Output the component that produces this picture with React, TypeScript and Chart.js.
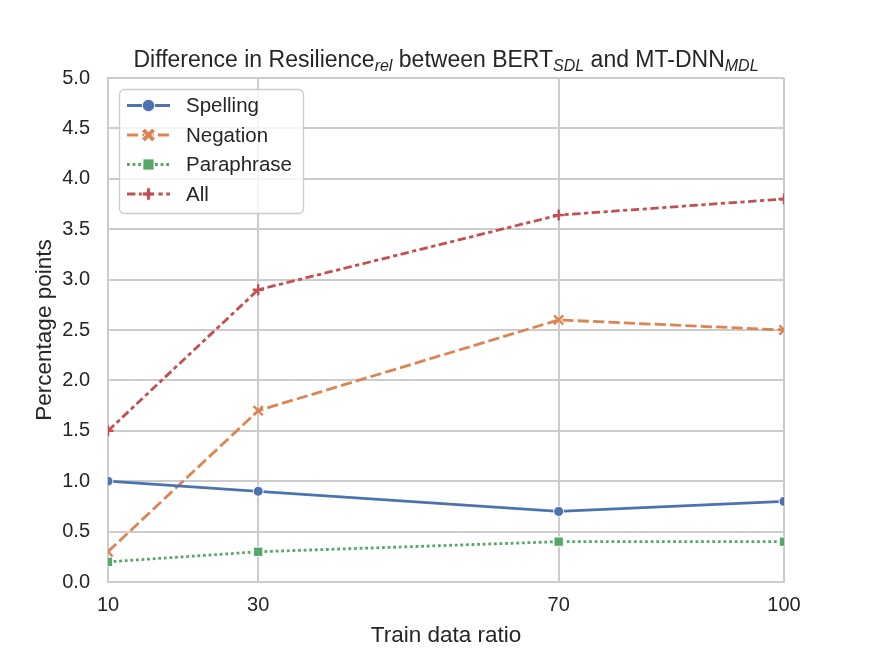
import React, { useEffect, useRef } from 'react';
import { Chart, registerables } from 'chart.js';

Chart.register(...registerables);

// train data ratio (%) on the x axis
const ratios = [10, 30, 70, 100];

// difference in percentage points, one array per perturbation type
const spelling = [1.0, 0.9, 0.7, 0.8];
const negation = [0.3, 1.7, 2.6, 2.5];
const paraphrase = [0.2, 0.3, 0.4, 0.4];
const allTypes = [1.5, 2.9, 3.64, 3.8];

const seriesNames = ['Spelling', 'Negation', 'Paraphrase', 'All'];
const seriesValues = [spelling, negation, paraphrase, allTypes];

const FONT = "'Liberation Sans', Arial, Helvetica, sans-serif";
const TEXT = '#262626';
const GRID = '#cccccc';

const LW = 2.8;
const styles = [
    { color: '#4c72b0', dash: [] as number[], marker: 'circle' },
    { color: '#dd8452', dash: [4 * LW, 1.5 * LW], marker: 'x' },
    { color: '#55a868', dash: [LW, LW], marker: 'square' },
    { color: '#c44e52', dash: [3 * LW, 1.25 * LW, 1.5 * LW, 1.25 * LW], marker: 'plus' },
];

function plusPath(ctx: CanvasRenderingContext2D, cx: number, cy: number, h: number, a: number, rot: number) {
    const pts = [
        [-a, -h], [a, -h], [a, -a], [h, -a], [h, a], [a, a],
        [a, h], [-a, h], [-a, a], [-h, a], [-h, -a], [-a, -a],
    ];
    const c = Math.cos(rot);
    const s = Math.sin(rot);
    ctx.beginPath();
    pts.forEach(([px, py], i) => {
        const x = cx + px * c - py * s;
        const y = cy + px * s + py * c;
        if (i === 0) ctx.moveTo(x, y);
        else ctx.lineTo(x, y);
    });
    ctx.closePath();
}

function drawLegendMarker(ctx: CanvasRenderingContext2D, kind: string, x: number, y: number, color: string) {
    ctx.fillStyle = color;
    ctx.strokeStyle = '#ffffff';
    ctx.lineWidth = 1;
    if (kind === 'circle') {
        ctx.beginPath();
        ctx.arc(x, y, 6.2, 0, Math.PI * 2);
    } else if (kind === 'square') {
        ctx.beginPath();
        ctx.rect(x - 5.6, y - 5.6, 11.2, 11.2);
    } else if (kind === 'x') {
        plusPath(ctx, x, y, 7.4, 2.3, Math.PI / 4);
    } else {
        plusPath(ctx, x, y, 6.2, 2.1, 0);
    }
    ctx.fill();
    ctx.stroke();
}

const legendPlugin = {
    id: 'lineLegend',
    afterDraw(chart: Chart) {
        const { ctx, chartArea } = chart;
        const left = chartArea.left + 11;
        const top = chartArea.top + 11;
        const w = 184;
        const h = 124;
        ctx.save();
        ctx.beginPath();
        ctx.roundRect(left + 0.5, top + 0.5, w, h, 5);
        ctx.fillStyle = 'rgba(255,255,255,0.8)';
        ctx.fill();
        ctx.strokeStyle = GRID;
        ctx.lineWidth = 1.3;
        ctx.stroke();

        seriesNames.forEach((name, i) => {
            const st = styles[i];
            const y = top + 16.5 + i * 29.5;
            ctx.setLineDash(st.dash);
            ctx.strokeStyle = st.color;
            ctx.lineWidth = LW;
            ctx.beginPath();
            ctx.moveTo(left + 8, y);
            ctx.lineTo(left + 51, y);
            ctx.stroke();
            ctx.setLineDash([]);
            drawLegendMarker(ctx, st.marker, left + 29.5, y, st.color);
            ctx.fillStyle = TEXT;
            ctx.font = `20.5px ${FONT}`;
            ctx.textBaseline = 'middle';
            ctx.textAlign = 'left';
            ctx.fillText(name, left + 67, y + 1);
        });
        ctx.restore();
    },
};

// title with subscripts
const titleParts: [string, boolean][] = [
    ['Difference in Resilience', false],
    ['rel', true],
    [' between BERT', false],
    ['SDL', true],
    [' and MT-DNN', false],
    ['MDL', true],
];

const titlePlugin = {
    id: 'subTitle',
    afterDraw(chart: Chart) {
        const { ctx, chartArea } = chart;
        const mainFont = `23px ${FONT}`;
        const subFont = `italic 16px ${FONT}`;
        ctx.save();
        let total = 0;
        titleParts.forEach(([t, sub]) => {
            ctx.font = sub ? subFont : mainFont;
            total += ctx.measureText(t).width;
        });
        let x = (chartArea.left + chartArea.right) / 2 - total / 2;
        const base = chartArea.top - 11.5;
        ctx.fillStyle = TEXT;
        ctx.textBaseline = 'alphabetic';
        ctx.textAlign = 'left';
        titleParts.forEach(([t, sub]) => {
            ctx.font = sub ? subFont : mainFont;
            ctx.fillText(t, x, sub ? base + 4.5 : base);
            x += ctx.measureText(t).width;
        });
        ctx.restore();
    },
};

const App: React.FC = () => {
    const chartRef = useRef<HTMLCanvasElement | null>(null);
    const chartInstanceRef = useRef<Chart | null>(null);

    useEffect(() => {
        document.body.style.margin = '0';
        if (!chartRef.current) return;
        if (chartInstanceRef.current) {
            chartInstanceRef.current.destroy();
        }
        const ctx = chartRef.current.getContext('2d');
        if (!ctx) return;

        const datasets = seriesNames.map((name, i) => {
            const st = styles[i];
            const isCross = st.marker === 'x' || st.marker === 'plus';
            return {
                label: name,
                data: ratios.map((r, j) => ({ x: r, y: seriesValues[i][j] })),
                borderColor: st.color,
                backgroundColor: st.color,
                borderWidth: LW,
                borderDash: st.dash,
                borderCapStyle: 'butt' as const,
                tension: 0,
                clip: 0,
                pointStyle:
                    st.marker === 'circle' ? 'circle' :
                    st.marker === 'square' ? 'rect' :
                    st.marker === 'x' ? 'crossRot' : 'cross',
                pointRadius: st.marker === 'circle' ? 5 : st.marker === 'square' ? 6.6 : st.marker === 'x' ? 6.5 : 5.5,
                pointBorderColor: isCross ? st.color : '#ffffff',
                pointBorderWidth: isCross ? 2.4 : 1,
                pointBackgroundColor: st.color,
                pointHoverRadius: 5,
            };
        });

        chartInstanceRef.current = new Chart(ctx, {
            type: 'line',
            data: { datasets },
            plugins: [titlePlugin, legendPlugin],
            options: {
                animation: false,
                responsive: true,
                maintainAspectRatio: false,
                layout: { padding: { top: 78, right: 87, left: 0, bottom: 0 } },
                plugins: {
                    legend: { display: false },
                    title: { display: false },
                    tooltip: { enabled: false },
                },
                scales: {
                    x: {
                        type: 'linear',
                        min: 10,
                        max: 100,
                        afterBuildTicks: (scale: any) => {
                            scale.ticks = ratios.map((v) => ({ value: v }));
                        },
                        afterFit: (scale: any) => {
                            scale.height = 72;
                        },
                        grid: { color: GRID, lineWidth: 2, drawTicks: false },
                        border: { color: GRID, width: 2 },
                        ticks: {
                            color: TEXT,
                            font: { family: FONT, size: 20 },
                            padding: 11,
                            maxRotation: 0,
                            autoSkip: false,
                            callback: (v: any) => String(v),
                        },
                        title: {
                            display: true,
                            text: 'Train data ratio',
                            color: TEXT,
                            font: { family: FONT, size: 22.5 },
                            padding: { top: 0, bottom: 5 },
                        },
                    },
                    y: {
                        min: 0,
                        max: 5,
                        afterFit: (scale: any) => {
                            scale.width = 108;
                        },
                        grid: { color: GRID, lineWidth: 2, drawTicks: false },
                        border: { color: GRID, width: 2 },
                        ticks: {
                            stepSize: 0.5,
                            color: TEXT,
                            font: { family: FONT, size: 20 },
                            padding: 18,
                            callback: (v: any) => Number(v).toFixed(1),
                        },
                        title: {
                            display: true,
                            text: 'Percentage points',
                            color: TEXT,
                            font: { family: FONT, size: 22.5 },
                            padding: { top: 31, bottom: 0 },
                        },
                    },
                },
            },
        });

        return () => {
            if (chartInstanceRef.current) {
                chartInstanceRef.current.destroy();
                chartInstanceRef.current = null;
            }
        };
    }, []);

    return (
        <div style={{ position: 'relative', width: 871, height: 654 }}>
            <canvas ref={chartRef} />
        </div>
    );
};

export default App;
